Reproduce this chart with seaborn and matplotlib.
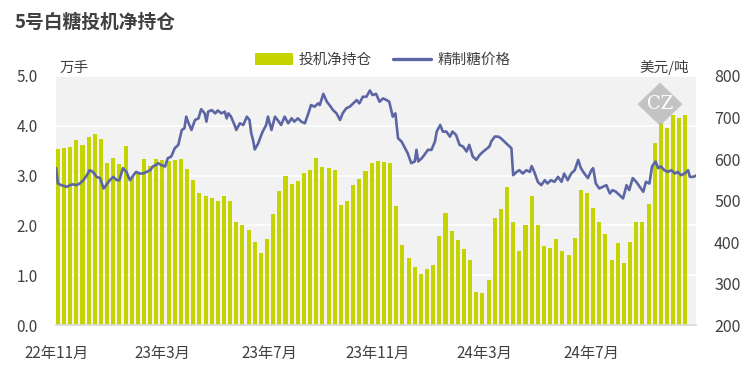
import pandas as pd
import numpy as np
import matplotlib
matplotlib.use("Agg")
import matplotlib.pyplot as plt
import matplotlib.dates as mdates
from matplotlib.patches import Polygon
from matplotlib.lines import Line2D
from matplotlib.patches import Patch
import seaborn as sns

# weekly speculative net position (10k lots), first week 2022-11-02
net_position = [3.53, 3.55, 3.57, 3.71, 3.61, 3.78, 3.84, 3.73, 3.25, 3.35, 3.23, 3.59, 2.98,
                3.08, 3.33, 3.20, 3.33, 3.31, 3.30, 3.31, 3.33, 3.13, 2.91, 2.65, 2.59, 2.55,
                2.49, 2.59, 2.49, 2.07, 2.01, 1.91, 1.67, 1.45, 1.73, 2.23, 2.69, 2.99, 2.83,
                2.89, 3.05, 3.11, 3.35, 3.17, 3.15, 3.11, 2.41, 2.49, 2.81, 2.93, 3.09, 3.25,
                3.29, 3.27, 3.25, 2.39, 1.61, 1.35, 1.16, 1.02, 1.12, 1.20, 1.79, 2.25, 1.89,
                1.71, 1.53, 1.31, 0.66, 0.64, 0.90, 2.15, 2.33, 2.77, 2.07, 1.49, 2.01, 2.59,
                2.01, 1.59, 1.55, 1.73, 1.49, 1.41, 1.75, 2.71, 2.65, 2.35, 2.07, 1.83, 1.31,
                1.65, 1.25, 1.67, 2.07, 2.07, 2.43, 3.65, 4.06, 3.96, 4.22, 4.16, 4.22]

# refined sugar price (USD/t), days after 2022-11-02
price_days = [-2, 0, 4, 10, 14, 17, 21, 25, 29, 33, 36, 40, 44, 48, 52, 55, 59, 63, 67, 70,
              74, 78, 82, 86, 89, 93, 97, 101, 105, 108, 112,
              114, 118, 122, 125, 129, 133, 137, 141, 144, 146, 148, 152, 156, 160, 163, 167,
              169, 171, 175, 179, 182, 186, 190, 192, 194, 197, 201, 203, 207, 211, 215, 218,
              220, 222, 224, 228,
              230, 233, 237, 239, 243, 247, 250, 254, 258, 262, 266, 269, 273, 277, 281, 285,
              288, 292, 296, 298, 302, 306, 309, 313, 317, 321, 324, 328, 332, 336, 340, 343, 347,
              351, 355, 358, 362, 366, 370, 374, 377, 381, 384, 387, 391, 395, 398, 402, 406,
              408, 410, 414, 417, 421, 425, 429, 431, 435, 438, 442, 446, 449, 453, 457, 461,
              465, 468,
              472, 476, 480, 484, 487, 491, 493, 497, 501, 504, 508, 512, 516, 518, 522, 525,
              529, 533, 537, 539, 542, 546, 550, 554, 557, 561, 565, 569, 573, 576, 580, 584, 588,
              592, 595, 599, 603, 607, 609, 612, 616, 620, 624, 628, 631, 635, 639, 643, 647,
              650, 654, 658, 662, 666, 669, 673, 676, 680, 683, 686, 690, 694, 698, 702, 705,
              709, 713, 717, 719, 723, 727]
price_values = [578, 541, 537, 533, 537, 539, 537, 541, 549, 561, 573, 569, 557, 554, 529, 537,
                549, 557, 549, 549, 578, 569, 549, 561, 569, 565, 565, 569, 573, 582, 586,
                590, 585, 582, 602, 606, 626, 634, 670, 674, 702, 690, 670, 694, 698, 720, 710,
                690, 714, 718, 710, 717, 710, 714, 698, 710, 702, 682, 670, 686, 682, 702, 694,
                662, 646, 623, 638,
                650, 666, 682, 702, 670, 702, 694, 682, 702, 686, 698, 690, 698, 690, 686, 710,
                730, 726, 734, 730, 757, 738, 730, 718, 710, 694, 710, 722, 726, 734, 742, 734, 750,
                750, 765, 754, 757, 738, 746, 742, 738, 702, 710, 650, 642, 626, 614, 590, 594,
                622, 594, 602, 610, 622, 622, 642, 666, 682, 666, 666, 654, 666, 658, 634, 630,
                618, 634,
                606, 598, 610, 618, 623, 630, 642, 654, 654, 650, 642, 634, 626, 561, 569, 573,
                565, 573, 569, 583, 569, 545, 537, 549, 541, 549, 545, 557, 545, 565, 549, 565, 573,
                598, 578, 565, 554, 573, 578, 541, 529, 533, 537, 517, 525, 521, 513, 505, 537,
                525, 554, 545, 533, 521, 545, 541, 582, 594, 578, 582, 573, 569, 573, 565, 569,
                561, 565, 573, 557, 557, 561]

tick_dates = ["2022-11-01", "2023-03-01", "2023-07-01", "2023-11-01", "2024-03-01", "2024-07-01"]
tick_labels = ["22年11月", "23年3月", "23年7月", "23年11月", "24年3月", "24年7月"]

bar_color = "#c5d300"
line_color = "#5c66a4"
text_color = "#404040"

sns.set_theme(style="white")
plt.rcParams['font.family'] = ['Noto Sans CJK SC', 'DejaVu Sans']

start = mdates.date2num(pd.Timestamp("2022-11-02"))
bar_x = mdates.date2num(pd.date_range("2022-11-02", periods=len(net_position), freq="7D"))
line_x = start + np.array(price_days, dtype=float)

fig = plt.figure(figsize=(7.5, 3.72), dpi=100)
ax = fig.add_axes([0.0747, 0.1263, 0.8533, 0.6694])
ax.set_facecolor("#f2f2f2")

sns.barplot(x=bar_x, y=net_position, native_scale=True, color=bar_color, width=0.66,
            errorbar=None, saturation=1, linewidth=0, edgecolor="none", ax=ax)
ax.set_ylim(0, 5)
ax.set_yticks([0, 1, 2, 3, 4, 5])
ax.set_yticklabels([f"{v:.1f}" for v in range(6)])
ax.yaxis.grid(True, color="white", linewidth=1.2)
ax.set_axisbelow(True)

ax2 = ax.twinx()
sns.lineplot(x=line_x, y=price_values, color=line_color, linewidth=1.9, ax=ax2)
ax2.set_ylim(200, 800)
ax2.set_yticks(range(200, 801, 100))

x0 = mdates.date2num(pd.Timestamp("2022-11-01"))
ax.set_xlim(x0 - 1.1, x0 + 727)
ax.set_xticks(mdates.date2num(pd.to_datetime(tick_dates)))
ax.set_xticklabels(tick_labels)

for a in (ax, ax2):
    for s in a.spines.values():
        s.set_visible(False)
ax.spines["bottom"].set_visible(True)
ax.spines["bottom"].set_color("#d9d9d9")

ax.tick_params(axis="x", length=4, color="#d9d9d9", pad=10, labelsize=11, labelcolor=text_color)
ax.tick_params(axis="y", length=0, pad=13, labelsize=11, labelcolor=text_color)
ax2.tick_params(axis="y", length=0, pad=13, labelsize=11.5, labelcolor=text_color)
ax.set_xlabel("")
ax.set_ylabel("")
ax2.set_ylabel("")

fig.text(0.019, 0.94, "5号白糖投机净持仓", fontsize=13.5, fontweight="bold",
         color=text_color, va="center", ha="left")
fig.text(0.079, 0.818, "万手", fontsize=10.5, color=text_color, va="center", ha="left")
fig.text(0.918, 0.818, "美元/吨", fontsize=10.5, color=text_color, va="center", ha="right")

handles = [Patch(facecolor=bar_color, edgecolor="none"),
           Line2D([], [], color=line_color, linewidth=2.4)]
fig.legend(handles, ["投机净持仓", "精制糖价格"], loc="center", ncol=2,
           bbox_to_anchor=(0.51, 0.838), frameon=False, fontsize=10.5,
           handlelength=2.6, handleheight=0.9, columnspacing=1.5, handletextpad=0.4,
           labelcolor=text_color)

# CZ watermark
cx, cy, w, h = 0.88, 0.72, 0.0300, 0.0580
fig.patches.append(Polygon([(cx, cy + h), (cx + w, cy), (cx, cy - h), (cx - w, cy)],
                           closed=True, transform=fig.transFigure, facecolor="#b8b8b8",
                           edgecolor="none", alpha=0.8, zorder=10))
fig.text(cx, cy, "CZ", fontsize=13, color="white", family="DejaVu Serif",
         ha="center", va="center", zorder=11)

fig.savefig("out.png", dpi=100)
